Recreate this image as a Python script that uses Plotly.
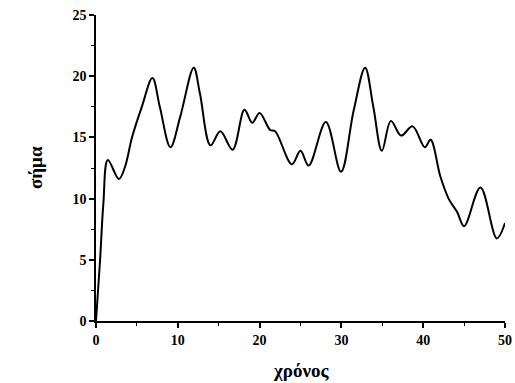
import plotly.graph_objects as go

time_x = [0, 0.5, 0.9, 1.45, 2.8, 3.55, 4.4, 5.6, 6.9, 7.8, 9.1, 10.3, 11.95, 12.7,
          14.0, 15.2, 16.7, 18.15, 19.1, 20.0, 21.3, 21.9, 23.95, 25.0, 26.0, 28.1,
          29.95, 31.5, 32.9, 33.9, 34.95, 36.05, 37.3, 38.7, 40.2, 40.9, 42.1, 43.1,
          44.15, 45.0, 47.0, 49.0, 50.0]
signal_y = [0, 5.0, 9.6, 13.15, 11.6, 12.6, 15.0, 17.5, 19.85, 17.5, 14.2, 16.7, 20.7, 18.6,
            14.35, 15.5, 14.0, 17.25, 16.2, 17.0, 15.6, 15.5, 12.8, 13.9, 12.7, 16.25,
            12.2, 17.2, 20.7, 17.5, 13.9, 16.35, 15.15, 15.9, 14.2, 14.8, 11.8, 10.0,
            8.9, 7.75, 10.9, 6.75, 8.0]

x_ticks = [0, 10, 20, 30, 40, 50]
y_ticks = [0, 5, 10, 15, 20, 25]
x_title = "χρόνος"
y_title = "σήμα"

font_family = "Liberation Serif, Times New Roman, serif"

fig = go.Figure()
fig.add_trace(go.Scatter(
    x=time_x, y=signal_y, mode="lines",
    line=dict(color="black", width=2, shape="spline", smoothing=1.0),
    showlegend=False, cliponaxis=False,
))

axis_common = dict(
    showline=True, linecolor="black", linewidth=1.5,
    showgrid=False, zeroline=False, mirror=False, automargin=False,
    ticks="outside", ticklen=5, tickwidth=1.5, tickcolor="black",
    ticklabeloverflow="allow",
    tickfont=dict(family=font_family, size=14, color="black", weight="bold"),
)

fig.update_layout(
    width=515, height=383,
    margin=dict(l=96, r=10, t=15, b=62),
    paper_bgcolor="white", plot_bgcolor="white",
    xaxis=dict(
        range=[0, 50], tickvals=x_ticks,
        minor=dict(dtick=5, ticks="outside", ticklen=3, tickwidth=1.2, tickcolor="black", tick0=0),
        **axis_common,
    ),
    yaxis=dict(
        range=[0, 25], tickvals=y_ticks,
        minor=dict(dtick=2.5, ticks="outside", ticklen=3, tickwidth=1.2, tickcolor="black", tick0=0),
        **axis_common,
    ),
    annotations=[
        dict(text=x_title, xref="paper", yref="paper", x=0.5, y=0, yshift=-49,
             xanchor="center", yanchor="middle", showarrow=False,
             font=dict(family=font_family, size=19, color="black", weight="bold")),
        dict(text=y_title, xref="paper", yref="paper", x=0, y=0.5, xshift=-61,
             xanchor="center", yanchor="middle", showarrow=False, textangle=-90,
             font=dict(family=font_family, size=19, color="black", weight="bold")),
    ],
)

# remove the default 8px page margin so the figure fills the window exactly
fig.write_html("out.html", config={"displayModeBar": False},
               post_script="document.body.style.margin='0';")
